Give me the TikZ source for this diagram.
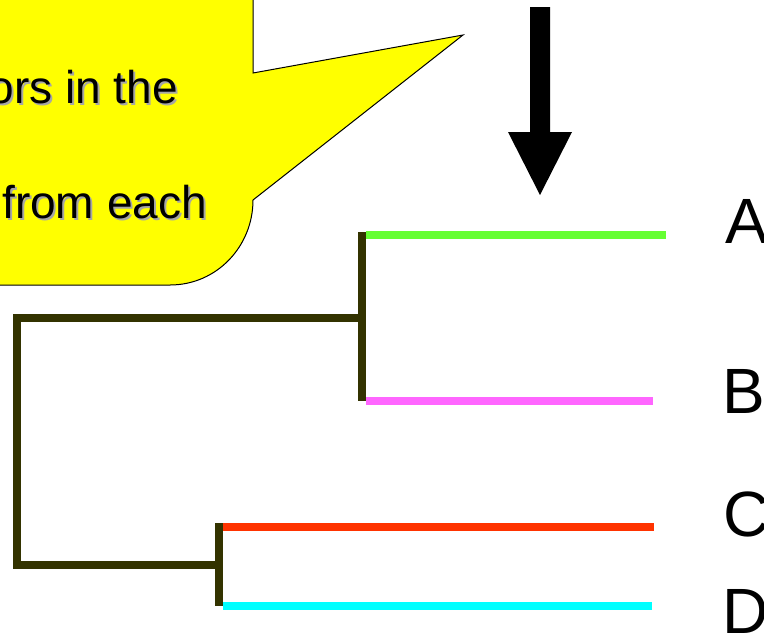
\documentclass[tikz,border=0pt]{standalone}
\usepackage{fontspec}
\setmainfont{Liberation Sans}
\definecolor{olive}{HTML}{333300}
\definecolor{leafA}{HTML}{66FF33}
\definecolor{leafB}{HTML}{FF66FF}
\definecolor{leafC}{HTML}{FF3300}
\definecolor{leafD}{HTML}{00FFFF}
\definecolor{callout}{HTML}{FFFF00}
\begin{document}
\begin{tikzpicture}[x=1pt,y=-1pt,
  inner/.style={draw=olive,line width=7.5pt},
  rootline/.style={draw=olive,line width=8.5pt},
  leaf/.style={line width=7.5pt},
  lab/.style={font=\fontsize{64}{64}\selectfont,anchor=base west,inner sep=0pt},
  ctext/.style={font=\fontsize{46}{46}\selectfont,anchor=base east,inner sep=0pt}]
\useasboundingbox (0,0) rectangle (764,633);
\clip (0,0) rectangle (764,633);
% callout
\draw[fill=callout,line width=1pt]
  (-20,-20) -- (253,-20) -- (253,73) -- (463,35) -- (253,200)
  to[out=-90,in=0] (170,285) -- (-20,285) -- cycle;
\node[ctext,text=black!35] at (180,105) {ors in the};
\node[ctext] (t1) at (178,103) {ors in the};
\node[ctext,text=black!35] at (209,220) {from each};
\node[ctext] (t2) at (207,218) {from each};
% big arrow
\fill (530,7) -- (550,7) -- (550,132) -- (572,132) -- (540,195) -- (508,132) -- (530,132) -- cycle;
% tree coordinates
\coordinate (r1) at (17,318);
\coordinate (r2) at (17,565);
\coordinate (ab) at (362,318);
\coordinate (cd) at (219,565);
\coordinate (abT) at (362,232);
\coordinate (abB) at (362,401);
\coordinate (cdT) at (219,523);
\coordinate (cdB) at (219,606);
\coordinate (a0) at (366,235);
\coordinate (a1) at (666,235);
\coordinate (b0) at (366,401);
\coordinate (b1) at (653,401);
\coordinate (c0) at (223,527);
\coordinate (c1) at (654,527);
\coordinate (d0) at (223,606);
\coordinate (d1) at (652,606);
% leaves
\draw[leaf,leafA] (a0) -- (a1);
\draw[leaf,leafB] (b0) -- (b1);
\draw[leaf,leafC] (c0) -- (c1);
\draw[leaf,leafD] (d0) -- (d1);
% internal branches
\draw[inner] (abT) -- (abB);
\draw[inner] (cdT) -- (cdB);
\draw[rootline] (ab) -- (13,318);
\draw[inner] (r1) ++(0,-4) -- (r2) -- (cd);
% labels
\node[lab] (A) at (725,243) {A};
\node[lab] (B) at (722,413) {B};
\node[lab] (C) at (723,536) {C};
\node[lab] (D) at (722,633) {D};
\end{tikzpicture}
\end{document}
